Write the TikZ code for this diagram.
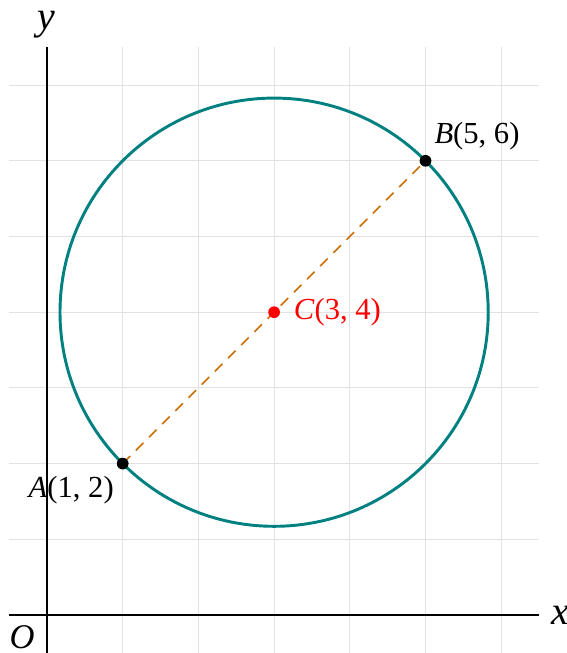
\documentclass[tikz,border=0pt]{standalone}
\usepackage{fontspec}
\setmainfont{Liberation Serif}
\definecolor{gridgray}{RGB}{226,226,226}
\definecolor{circteal}{RGB}{0,128,128}
\definecolor{dashorange}{RGB}{204,110,0}
\tikzset{
  gridline/.style={draw=gridgray, line width=0.4pt},
  axisline/.style={draw=black, line width=0.8pt},
  dot/.style={circle, fill=black, inner sep=0pt, minimum size=0.155cm},
  ptlabel/.style={font=\fontsize{11.5}{13}\selectfont, inner sep=1pt},
  axlabel/.style={font=\fontsize{15}{17}\selectfont, inner sep=0pt}
}
\begin{document}
\begin{tikzpicture}
\useasboundingbox (-0.621,-0.502) rectangle (6.856,8.124);
% grid
\foreach \i in {1,...,6} \draw[gridline] (\i,-0.5) -- (\i,7.5);
\foreach \j in {1,...,7} \draw[gridline] (-0.5,\j) -- (6.5,\j);
% axes
\coordinate (xs) at (-0.5,0);
\coordinate (xe) at (6.5,0);
\coordinate (ys) at (0,-0.5);
\coordinate (ye) at (0,7.5);
\draw[axisline] (xs) -- (xe);
\draw[axisline] (ys) -- (ye);
\node[axlabel] (xl) at (6.78,0) {\textit{x}};
\node[axlabel] (yl) at (-0.01,7.8) {\textit{y}};
\node[axlabel, font=\fontsize{13}{15}\selectfont] (ol) at (-0.33,-0.29) {\textit{O}};
% circle
\coordinate (C) at (3,4);
\draw[circteal, line width=1.1pt] (C) circle ({sqrt(8)});
% diameter
\coordinate (A) at (1,2);
\coordinate (B) at (5,6);
\draw[dashorange, dashed, line width=0.6pt, dash pattern=on 4pt off 3pt] (A) -- (B);
% points
\node[dot] (Ad) at (A) {};
\node[dot] (Bd) at (B) {};
\node[dot, fill=red] (Cd) at (C) {};
\node[ptlabel] (Al) at (0.32,1.65) {\textit{A}(1, 2)};
\node[ptlabel] (Bl) at (5.68,6.33) {\textit{B}(5, 6)};
\node[ptlabel, text=red, anchor=west] (Cl) at (3.22,4) {\textit{C}(3, 4)};
\end{tikzpicture}
\end{document}
